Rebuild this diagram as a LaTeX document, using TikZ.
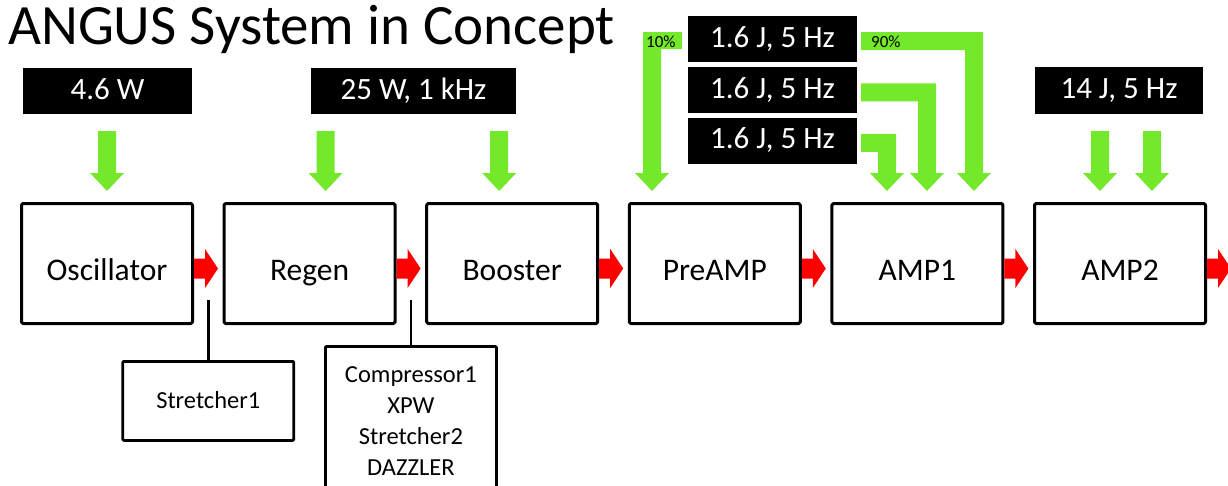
\documentclass[tikz,border=0pt]{standalone}
\usepackage{fontspec}
\setmainfont{Carlito}
\usetikzlibrary{positioning, calc}

\definecolor{pumpgreen}{RGB}{116,232,42}
\definecolor{seedred}{RGB}{255,0,0}

% red block arrow leaving a stage
\newcommand\seedarrow[1]{%
    \fill[seedred] ($(#1.east)+(0,-5)$) -- ++(11,0) -- ++(0,-9.5) -- ++(13,19.5) -- ++(-13,19.5) -- ++(0,-9.5) -- ++(-11,0) -- cycle;%
}
% straight green pump arrow into a stage (target, x offset)
\newcommand\pumparrow[2]{%
    \fill[pumpgreen] ($(#1.north)+(#2,-11)$) -- ++(17,-18) -- ++(-8,0) -- ++(0,-42) -- ++(-18,0) -- ++(0,42) -- ++(-8,0) -- cycle;%
}
% bent green pump arrow from a pump label into a stage (label, target, x offset)
\newcommand\pumpbend[3]{%
    \path ($(#1.east)+(4,-7)$) coordinate (bar) ($(#2.north)+(#3,-11)$) coordinate (tip);
    \coordinate (corner) at (bar -| tip);
    \fill[pumpgreen] (bar) -- ($(corner)+(9,0)$) -- ($(tip)+(9,-18)$) -- ($(tip)+(17,-18)$) -- (tip)
        -- ($(tip)+(-17,-18)$) -- ($(tip)+(-9,-18)$) -- ($(corner)+(-9,18)$) -- ($(bar)+(0,18)$) -- cycle;%
}

\begin{document}
\begin{tikzpicture}[x = 1pt, y = -1pt, line join = round,
    stage/.style = {draw, line width = 3pt, rounded corners = 1.5pt, minimum width = 171pt, minimum height = 120pt,
        inner sep = 0pt, text height = 33pt, text depth = 0pt, font = \fontsize{31.5}{36}\selectfont},
    sidebox/.style = {draw, line width = 2.75pt, rounded corners = 1pt, minimum width = 171pt, inner sep = 0pt,
        font = \fontsize{24.5}{30}\selectfont},
    pumplabel/.style = {fill = black, text = white, inner sep = 0pt, minimum height = 46pt,
        text height = 16pt, text depth = 0pt, font = \fontsize{31}{36}\selectfont},
    tap/.style = {line width = 2.75pt},
    pct/.style = {inner sep = 0pt, anchor = base west, font = \fontsize{17}{20}\selectfont}]
    %
    \def\StageGap{28.6pt}
    \def\TapDrop{25}

    \useasboundingbox (0, 0) rectangle (1228, 485);

    % title
    \node [anchor = base west, inner sep = 0pt, font = \fontsize{57}{62}\selectfont] (title) at (8, 44) {ANGUS System in Concept};

    % laser chain
    \node [stage] (osc) at (107, 263.5) {Oscillator};
    \node [stage, right = \StageGap of osc] (regen) {Regen};
    \node [stage, right = \StageGap of regen] (booster) {Booster};
    \node [stage, right = \StageGap of booster] (preamp) {PreAMP};
    \node [stage, right = \StageGap of preamp] (amp1) {AMP1};
    \node [stage, right = \StageGap of amp1] (amp2) {AMP2};
    \foreach \st in {osc, regen, booster, preamp, amp1, amp2}
        \seedarrow{\st};

    % stretcher / compressor branches
    \coordinate (osctap) at ($(osc.south east)!0.5!(regen.south west)+(0, -\TapDrop)$);
    \coordinate (regentap) at ($(regen.south east)!0.5!(booster.south west)+(0, -\TapDrop)$);
    \node [sidebox, minimum height = 79pt, below = 60pt of osctap, text height = 15.5pt, text depth = 0pt] (str1) {Stretcher1};
    \node [sidebox, minimum height = 155pt, below = 45pt of regentap] (cmp) {};
    \foreach \txt [count = \i] in {Compressor1, XPW, Stretcher2, DAZZLER}
        \node [anchor = base, inner sep = 0pt, font = \fontsize{24.5}{30}\selectfont] (cmp-\i) at ($(cmp.north)+(0, {37 + 31 * (\i - 1)})$) {\txt};
    \draw [tap] (osctap) -- (str1.north);
    \draw [tap] (regentap) -- (cmp.north);

    % pump lasers
    \node [pumplabel, minimum width = 169pt] (oscpump) at (107.5, 91) {4.6 W};
    \node [pumplabel, minimum width = 205pt] (regenpump) at (413.5, 91) {25 W, 1 kHz};
    \node [pumplabel, minimum width = 169pt] (amppump-a) at (772.5, 39) {1.6 J, 5 Hz};
    \node [pumplabel, minimum width = 169pt, below = 5pt of amppump-a] (amppump-b) {1.6 J, 5 Hz};
    \node [pumplabel, minimum width = 169pt, below = 4pt of amppump-b] (amppump-c) {1.6 J, 5 Hz};
    \node [pumplabel, minimum width = 168pt, minimum height = 47pt] (amp2pump) at (1119, 90.5) {14 J, 5 Hz};

    \pumparrow{osc}{0}
    \pumparrow{regen}{16}
    \pumparrow{booster}{-13}
    \pumparrow{amp2}{-20}
    \pumparrow{amp2}{32}

    % 10 % split to the preamp
    \path ($(amppump-a.west)+(-6, -7)$) coordinate (bar) ($(preamp.north)+(-62.8, -11)$) coordinate (tip);
    \coordinate (corner) at (bar -| tip);
    \fill [pumpgreen] (bar) -- ($(corner)+(-9, 0)$) -- ($(tip)+(-9, -18)$) -- ($(tip)+(-17, -18)$) -- (tip)
        -- ($(tip)+(17, -18)$) -- ($(tip)+(9, -18)$) -- ($(corner)+(9, 17)$) -- ($(bar)+(0, 17)$) -- cycle;
    \node [pct] (split-lo) at (646, 47) {10\%};

    % 90 % and the other two beams into amp1
    \pumpbend{amppump-a}{amp1}{56.6}
    \pumpbend{amppump-b}{amp1}{9.6}
    \pumpbend{amppump-c}{amp1}{-30.4}
    \node [pct] (split-hi) at (871, 47) {90\%};
\end{tikzpicture}
\end{document}
